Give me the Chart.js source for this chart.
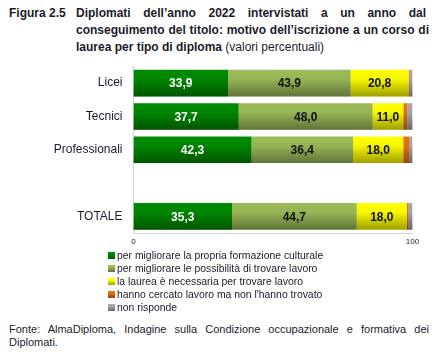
<!DOCTYPE html>
<html><head><meta charset="utf-8">
<script src="https://cdn.jsdelivr.net/npm/chart.js@4.4.1/dist/chart.umd.min.js"></script>
<style>
body{margin:0;width:437px;height:355px;position:relative;background:#fff;font-family:"Liberation Sans",Arial,sans-serif;color:#1b1b2b;overflow:hidden}
.ab{position:absolute;white-space:nowrap}
.tt{font-weight:bold;font-size:12px;line-height:17px}
.just{text-align:justify;text-align-last:justify}
#legend{position:absolute;left:106px;top:249px;font-size:10.4px;line-height:13px;color:#1b1b2b}
#legend div{position:relative;padding-left:11px;white-space:nowrap}
#legend span{position:absolute;left:2px;top:3px;width:7px;height:7px}
.foot{font-size:11px;line-height:13.5px}
#wrap{position:absolute;left:0;top:60px;width:437px;height:190px}
</style></head><body>
<div class="ab tt" style="left:9px;top:5px">Figura 2.5</div>
<div class="ab tt just" style="left:76px;top:5px;width:350px">Diplomati dell’anno 2022 intervistati a un anno dal</div>
<div class="ab tt just" style="left:76px;top:22px;width:353px">conseguimento del titolo: motivo dell’iscrizione a un corso di</div>
<div class="ab tt" style="left:76px;top:39px">laurea per tipo di diploma <span style="font-weight:normal">(valori percentuali)</span></div>
<div id="wrap"><canvas id="c" width="437" height="190"></canvas></div>
<div id="legend"></div>
<div class="ab foot just" style="left:9px;top:323px;width:420px">Fonte: AlmaDiploma, Indagine sulla Condizione occupazionale e formativa dei</div>
<div class="ab foot" style="left:9px;top:336px">Diplomati.</div>
<script>
const categories = ["Licei", "Tecnici", "Professionali", "", "TOTALE"];
const seriesNames = [
  "per migliorare la propria formazione culturale",
  "per migliorare le possibilità di trovare lavoro",
  "la laurea è necessaria per trovare lavoro",
  "hanno cercato lavoro ma non l'hanno trovato",
  "non risponde"
];
const formazioneCulturale = [33.9, 37.7, 42.3, null, 35.3];
const trovareLavoro       = [43.9, 48.0, 36.4, null, 44.7];
const laureaNecessaria    = [20.8, 11.0, 18.0, null, 18.0];
const cercatoLavoro       = [0.4, 1.4, 2.1, null, 0.4];
const nonRisponde         = [1.0, 1.9, 1.2, null, 1.6];
const xTickLabels = [0, 100];

const colors = ["#008a00", "#9bbb59", "#ffff00", "#ec7010", "#a8a8a8"];
const labelColors = ["#ffffff", "#111111", "#111111", null, null];
const allSeries = [formazioneCulturale, trovareLavoro, laureaNecessaria, cercatoLavoro, nonRisponde];

function shade(hex){
  const n = parseInt(hex.slice(1),16);
  const f = 0.62;
  const r = Math.round(((n>>16)&255)*f), g = Math.round(((n>>8)&255)*f), b = Math.round((n&255)*f);
  return `rgb(${r},${g},${b})`;
}
// HTML legend
const lg = document.getElementById('legend');
seriesNames.forEach((n, i) => {
  const d = document.createElement('div');
  const s = document.createElement('span');
  s.style.background = `linear-gradient(${colors[i]} 30%, ${shade(colors[i])})`;
  d.appendChild(s);
  d.appendChild(document.createTextNode(n));
  lg.appendChild(d);
});

const barStyle = {
  id: 'barStyle',
  afterDatasetsDraw(chart) {
    const ctx = chart.ctx;
    ctx.save();
    chart.data.datasets.forEach((ds, i) => {
      const meta = chart.getDatasetMeta(i);
      meta.data.forEach((bar, j) => {
        if (ds.data[j] == null) return;
        const p = bar.getProps(['x', 'y', 'base', 'height'], true);
        const left = Math.min(p.base, p.x), w = Math.abs(p.x - p.base);
        const top = p.y - p.height / 2;
        const g = ctx.createLinearGradient(0, top, 0, top + p.height);
        g.addColorStop(0, 'rgba(0,0,0,0)');
        g.addColorStop(0.35, 'rgba(0,0,0,0.03)');
        g.addColorStop(1, 'rgba(0,0,0,0.38)');
        ctx.fillStyle = g;
        ctx.fillRect(left, top, w, p.height);
      });
    });
    ctx.font = 'bold 12px "Liberation Sans", Arial, sans-serif';
    ctx.textAlign = 'center';
    ctx.textBaseline = 'middle';
    chart.data.datasets.forEach((ds, i) => {
      if (!labelColors[i]) return;
      const meta = chart.getDatasetMeta(i);
      meta.data.forEach((bar, j) => {
        const v = ds.data[j];
        if (v == null) return;
        const p = bar.getProps(['x', 'y', 'base'], true);
        ctx.fillStyle = labelColors[i];
        ctx.fillText(v.toFixed(1).replace('.', ','), (p.x + p.base) / 2, p.y + 1);
      });
    });
    ctx.restore();
  }
};

new Chart(document.getElementById('c'), {
  type: 'bar',
  data: {
    labels: categories,
    datasets: allSeries.map((d, i) => ({
      label: seriesNames[i],
      data: d,
      backgroundColor: colors[i],
      borderWidth: 0,
      barPercentage: 0.8,
      categoryPercentage: 1.0
    }))
  },
  options: {
    indexAxis: 'y',
    responsive: false,
    animation: false,
    devicePixelRatio: 1,
    layout: { padding: { top: 6.5, right: 24.5, bottom: 0, left: 0 } },
    plugins: { legend: { display: false }, tooltip: { enabled: false }, title: { display: false } },
    scales: {
      x: {
        stacked: true, min: 0, max: 100,
        grid: { display: false, drawTicks: false },
        border: { display: true, color: '#d4d4d4', width: 1 },
        afterBuildTicks(scale) { scale.ticks = xTickLabels.map(v => ({ value: v })); },
        afterFit(scale) { scale.height = 17; scale.paddingLeft = 0; scale.paddingRight = 0; },
        ticks: { padding: 4, color: '#222', font: { size: 8, family: '"Liberation Sans", Arial, sans-serif' } }
      },
      y: {
        stacked: true,
        grid: { display: false, drawTicks: false },
        border: { display: true, color: '#d4d4d4', width: 1 },
        afterFit(scale) { scale.width = 133.5; scale.paddingTop = 0; scale.paddingBottom = 0; },
        ticks: { padding: 11, color: '#1b1b2b', font: { size: 12, family: '"Liberation Sans", Arial, sans-serif' } }
      }
    }
  },
  plugins: [barStyle]
});
</script>
</body></html>
